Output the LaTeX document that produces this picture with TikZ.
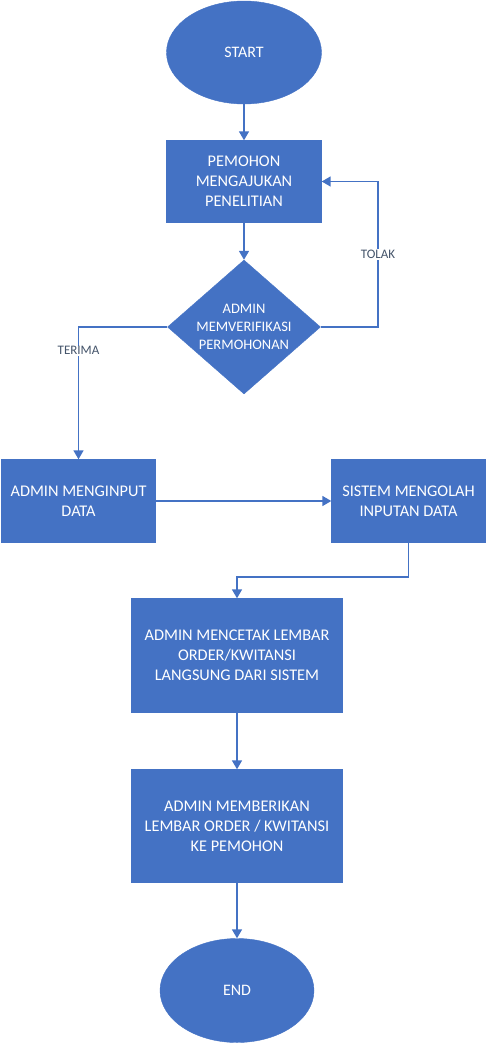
\documentclass[tikz,border=0pt]{standalone}
\usepackage{fontspec}
\setmainfont{Carlito}
\usetikzlibrary{shapes.geometric,arrows.meta}
\definecolor{officeblue}{RGB}{68,114,196}
\definecolor{labelgray}{RGB}{68,84,106}

\begin{document}
\begin{tikzpicture}[x=1pt,y=-1pt,
  terminal/.style={ellipse, fill=officeblue, draw=officeblue, text=white, font=\fontsize{16}{20}\selectfont},
  process/.style={rectangle, fill=officeblue, draw=officeblue, text=white, align=center, font=\fontsize{16.3}{20}\selectfont},
  decision/.style={diamond, fill=officeblue, draw=officeblue, text=white, align=center, inner sep=-8pt, font=\fontsize{14.5}{18}\selectfont},
  arr/.style={-{Triangle[width=10pt,length=9pt]}, officeblue, line width=1.6pt},
  lbl/.style={fill=white, text=labelgray, inner sep=1pt, font=\fontsize{13}{14}\selectfont}]
\useasboundingbox (0,0) rectangle (489,1044);
\node[terminal, minimum width=155pt, minimum height=103pt] (start) at (244,52.5) {START};
\node[process, minimum width=155pt, minimum height=82pt] (pemohon) at (244,181.5) {PEMOHON\\MENGAJUKAN\\PENELITIAN};
\node[decision, minimum width=153pt, minimum height=134pt] (verif) at (244,327) {ADMIN\\MEMVERIFIKASI\\PERMOHONAN};
\node[process, minimum width=154pt, minimum height=83pt] (input) at (78.5,501) {ADMIN MENGINPUT\\DATA};
\node[process, minimum width=154pt, minimum height=83pt] (sistem) at (408.5,501) {SISTEM MENGOLAH\\INPUTAN DATA};
\node[process, minimum width=211pt, minimum height=114pt] (cetak) at (237,655.5) {ADMIN MENCETAK LEMBAR\\ORDER/KWITANSI\\LANGSUNG DARI SISTEM};
\node[process, minimum width=211pt, minimum height=113pt] (beri) at (237,826) {ADMIN MEMBERIKAN\\LEMBAR ORDER / KWITANSI\\KE PEMOHON};
\node[terminal, minimum width=154pt, minimum height=104pt] (end) at (237,990.5) {END};
\coordinate (tolak) at (378,327);
% connectors
\draw[arr] (start) -- (pemohon);
\draw[arr] (pemohon) -- (verif);
\draw[arr] (verif.east) -- (tolak) |- node[pos=0.25,lbl] {TOLAK} (pemohon.east);
\draw[arr] (verif.west) -| node[pos=0.59,lbl] {TERIMA} (input.north);
\draw[arr] (input) -- (sistem);
\draw[arr] (sistem.south) -- ++(0,34) -| (cetak.north);
\draw[arr] (cetak) -- (beri);
\draw[arr] (beri) -- (end);
\end{tikzpicture}
\end{document}
